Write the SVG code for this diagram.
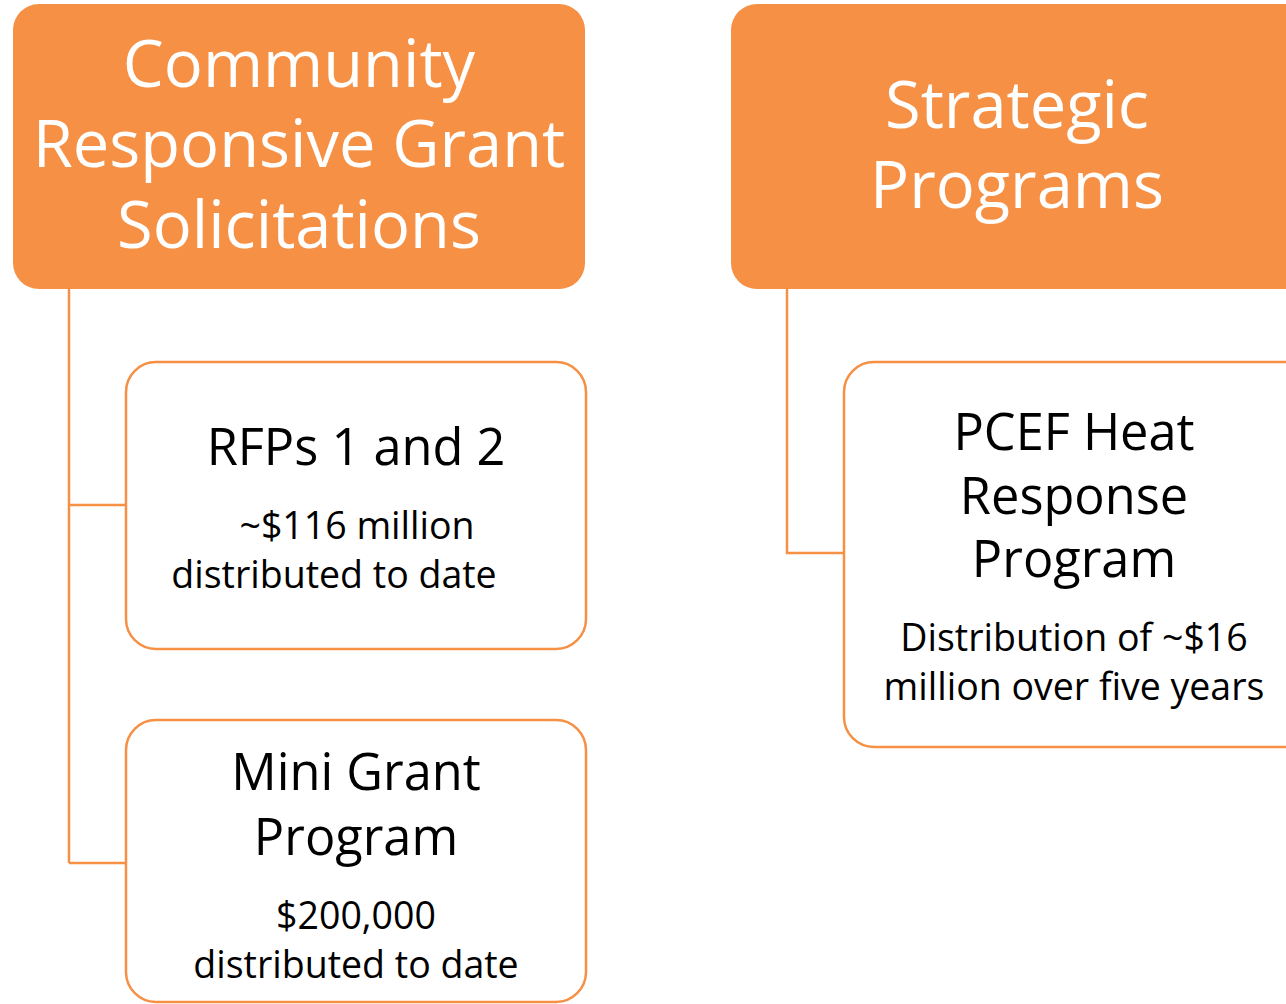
<svg xmlns="http://www.w3.org/2000/svg" width="1286" height="1004" viewBox="0 0 1286 1004">
<style>
.head{fill:#F69045;}
.child{fill:#FFFFFF;stroke:#F69045;stroke-width:2.5;}
.conn{fill:none;stroke:#F69045;stroke-width:2.5;}
text{font-family:"Open Sans","Noto Sans","DejaVu Sans",sans-serif;text-anchor:middle;}
.ht{fill:#FFFFFF;font-size:65px;}
.ct{fill:#000000;font-size:50.5px;}
.st{fill:#000000;font-size:37.5px;}
</style>
<rect width="1286" height="1004" fill="#FFFFFF"/>
<g id="connectors">
<path class="conn" d="M69 289 V863 M69 505 H126 M69 863 H126"/>
<path class="conn" d="M787 289 V553 H844"/>
</g>
<g id="node-community">
<rect class="head" x="13" y="4" width="572" height="285" rx="26"/>
<text class="ht" x="299" y="87">Community</text>
<text class="ht" x="299" y="167">Responsive Grant</text>
<text class="ht" x="299" y="248">Solicitations</text>
</g>
<g id="node-strategic">
<rect class="head" x="731" y="4" width="590" height="285" rx="26"/>
<text class="ht" x="1017" y="128">Strategic</text>
<text class="ht" x="1017" y="208">Programs</text>
</g>
<g id="node-rfps">
<rect class="child" x="126" y="362" width="460" height="287" rx="30"/>
<text class="ct" x="356" y="465">RFPs 1 and 2</text>
<text class="st" x="357" y="539">~$116 million</text>
<text class="st" x="334" y="588">distributed to date</text>
</g>
<g id="node-mini">
<rect class="child" x="126" y="720" width="460" height="282" rx="30"/>
<text class="ct" x="356" y="790">Mini Grant</text>
<text class="ct" x="356" y="855">Program</text>
<text class="st" x="356" y="929">$200,000</text>
<text class="st" x="356" y="978">distributed to date</text>
</g>
<g id="node-pcef">
<rect class="child" x="844" y="362" width="480" height="385" rx="30"/>
<text class="ct" x="1074" y="450">PCEF Heat</text>
<text class="ct" x="1074" y="514">Response</text>
<text class="ct" x="1074" y="577">Program</text>
<text class="st" x="1074" y="651">Distribution of ~$16</text>
<text class="st" x="1074" y="700">million over five years</text>
</g>
</svg>
